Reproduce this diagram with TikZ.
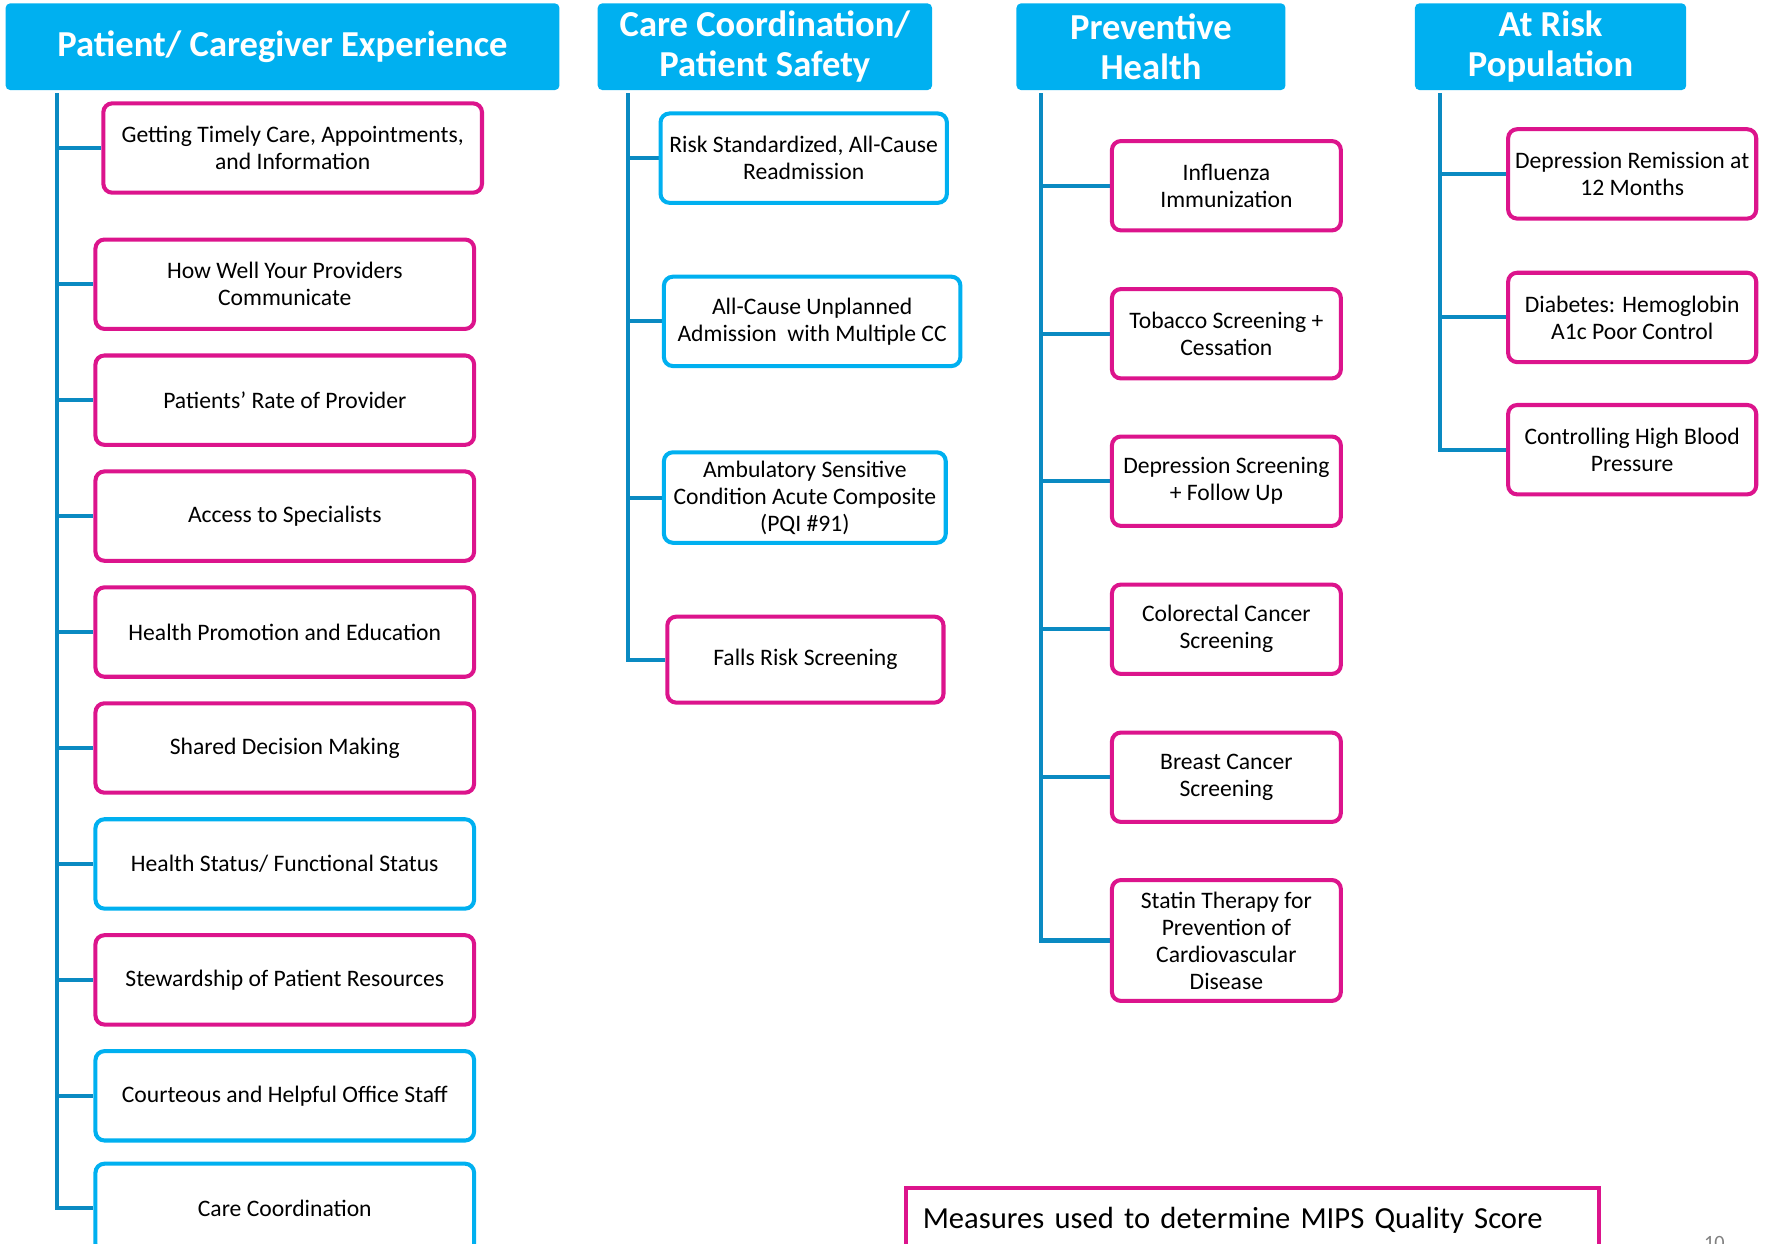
\documentclass[tikz,border=0pt]{standalone}
\usepackage{fontspec}
\setmainfont{Carlito}
\usetikzlibrary{backgrounds}

\definecolor{hdrfill}{RGB}{0,176,240}
\definecolor{pinkline}{RGB}{220,20,140}
\definecolor{blueline}{RGB}{0,176,240}
\definecolor{treeline}{RGB}{10,138,194}

\tikzset{
  header/.style={fill=hdrfill, rounded corners=4pt, text=white, align=center,
    inner sep=0pt, minimum height=77pt,
    font=\bfseries\fontsize{32.5}{36}\selectfont},
  measure/.style={draw, line width=3.6pt, rounded corners=8pt, fill=white,
    align=center, inner sep=0pt, minimum height=79.4pt,
    font=\fontsize{21}{24}\selectfont},
  pinkbox/.style={measure, draw=pinkline},
  bluebox/.style={measure, draw=blueline},
  link/.style={draw=treeline, line width=3.6pt},
  keybox/.style={draw=pinkline, line width=3.6pt, fill=white, align=left,
    inner xsep=15pt, inner ysep=0pt, text width=586pt, minimum height=56pt,
    font=\fontsize{27.2}{30}\selectfont},
}

\begin{document}
\begin{tikzpicture}[x=1pt, y=-1pt]
\useasboundingbox (0,0) rectangle (1568,1105);
\clip (0,0) rectangle (1568,1105);

% category headers
\node[header, minimum width=492pt] (h1) at (251,41.5) {Patient/ Caregiver Experience};
\node[header, minimum width=297pt] (h2) at (679.5,41.5) {Care Coordination/\\Patient Safety};
\node[header, minimum width=239pt] (h3) at (1022.5,41.5) {Preventive\\Health};
\node[header, minimum width=241pt] (h4) at (1377.5,41.5) {At Risk\\Population};

% patient / caregiver experience measures
\begin{scope}[every node/.append style={minimum width=336.4pt}]
\node[pinkbox] (b1) at (260,131.5) {Getting Timely Care, Appointments,\\and Information};
\node[pinkbox] (b2) at (253,252.5) {How Well Your Providers\\Communicate};
\node[pinkbox] (b3) at (253,355.5) {Patients’ Rate of Provider};
\node[pinkbox] (b4) at (253,458.5) {Access to Specialists};
\node[pinkbox] (b5) at (253,561.5) {Health Promotion and Education};
\node[pinkbox] (b6) at (253,664.5) {Shared Decision Making};
\node[bluebox] (b7) at (253,767.5) {Health Status/ Functional Status};
\node[pinkbox] (b8) at (253,870.5) {Stewardship of Patient Resources};
\node[bluebox] (b9) at (253,973.5) {Courteous and Helpful Office Staff};
\node[bluebox] (b10) at (253,1073.5) {Care Coordination};
\end{scope}

% care coordination / patient safety measures
\node[bluebox, minimum width=254.4pt] (c1) at (714,140.5) {Risk Standardized, All-Cause\\Readmission};
\node[bluebox, minimum width=263.4pt] (c2) at (721.5,285.5) {All-Cause Unplanned\\Admission\ \ with Multiple CC};
\node[bluebox, minimum width=250.4pt, minimum height=80.4pt] (c3) at (715,442) {Ambulatory Sensitive\\Condition Acute Composite\\(PQI \#91)};
\node[pinkbox, minimum width=245.4pt, minimum height=76.4pt] (c4) at (715.5,586) {Falls Risk Screening};

% preventive health measures
\begin{scope}[every node/.append style={minimum width=203.4pt}]
\node[pinkbox] (d1) at (1089.5,165) {Influenza\\Immunization};
\node[pinkbox] (d2) at (1089.5,296.5) {Tobacco Screening +\\Cessation};
\node[pinkbox] (d3) at (1089.5,427.5) {Depression Screening\\+ Follow Up};
\node[pinkbox] (d4) at (1089.5,559) {Colorectal Cancer\\Screening};
\node[pinkbox] (d5) at (1089.5,690.5) {Breast Cancer\\Screening};
\node[pinkbox, minimum height=107.4pt] (d6) at (1089.5,835.5) {Statin Therapy for\\Prevention of\\Cardiovascular\\Disease};
\end{scope}

% at risk population measures
\begin{scope}[every node/.append style={minimum width=220.4pt}]
\node[pinkbox] (e1) at (1450,154.5) {Depression Remission at\\12 Months};
\node[pinkbox] (e2) at (1450,282) {Diabetes: Hemoglobin\\A1c Poor Control};
\node[pinkbox] (e3) at (1450,399.5) {Controlling High Blood\\Pressure};
\end{scope}

% tree trunks under each header
\coordinate (t1) at (51,83);
\coordinate (t2) at (558,83);
\coordinate (t3) at (925,83);
\coordinate (t4) at (1279,83);

\begin{scope}[on background layer]
\draw[link] (t1) |- (b10.west);
\foreach \n in {b1,b2,b3,b4,b5,b6,b7,b8,b9}
  \draw[link] (t1 |- \n.west) -- (\n.west);
\draw[link] (t2) |- (c4.west);
\foreach \n in {c1,c2,c3}
  \draw[link] (t2 |- \n.west) -- (\n.west);
\draw[link] (t3) |- (d6.west);
\foreach \n in {d1,d2,d3,d4,d5}
  \draw[link] (t3 |- \n.west) -- (\n.west);
\draw[link] (t4) |- (e3.west);
\foreach \n in {e1,e2}
  \draw[link] (t4 |- \n.west) -- (\n.west);
\end{scope}

% key and page number
\node[keybox, anchor=north west] (key) at (803,1054) {Measures used to determine MIPS Quality Score};
\node[text=gray, anchor=base, font=\fontsize{18}{20}\selectfont] (pg) at (1523,1110) {10};
\end{tikzpicture}
\end{document}
